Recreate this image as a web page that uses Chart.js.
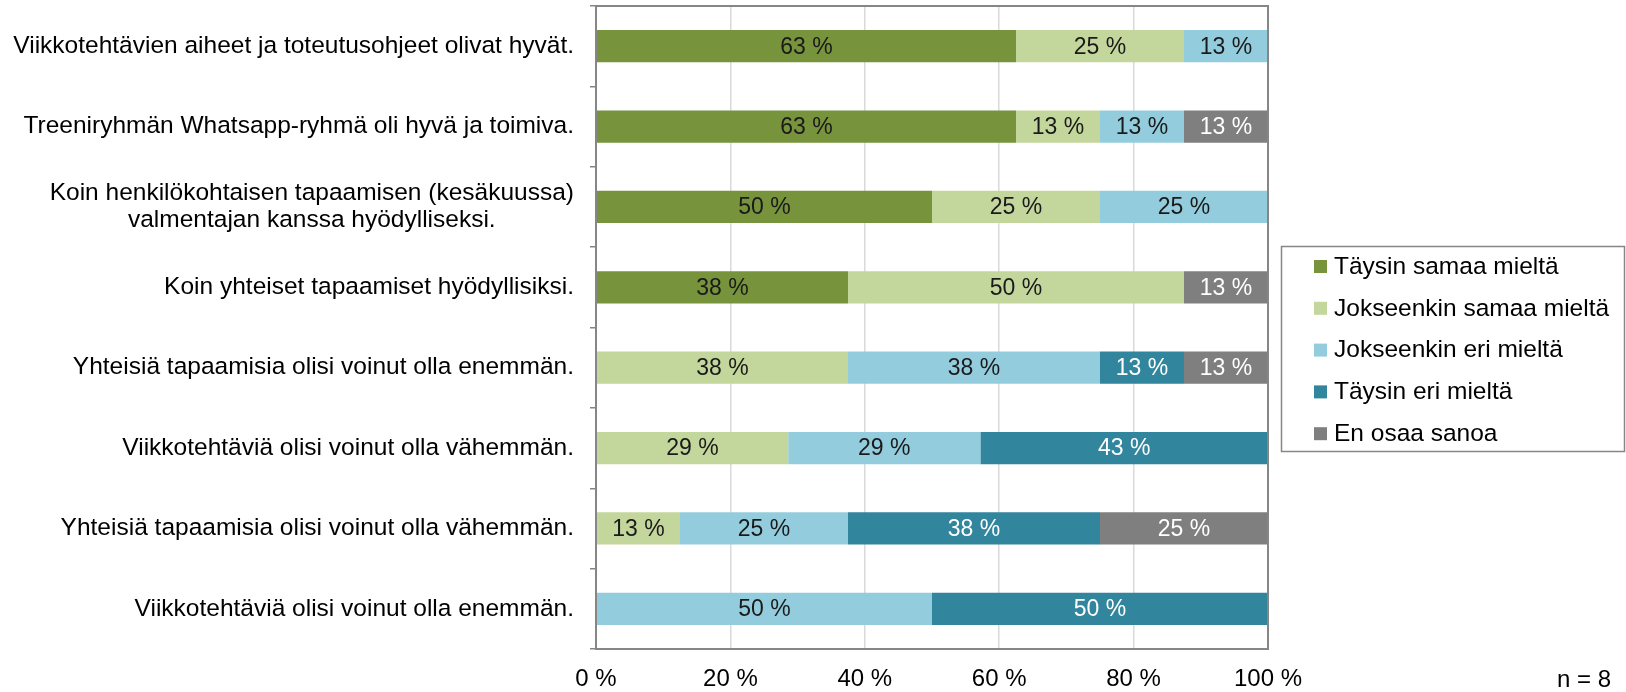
<!DOCTYPE html>
<html>
<head>
<meta charset="utf-8">
<script src="https://cdn.jsdelivr.net/npm/chart.js@4"></script>
<style>
  html, body { margin: 0; padding: 0; background: #fff; }
  #wrap { width: 1626px; height: 692px; position: relative; }
</style>
</head>
<body>
<div id="wrap"><canvas id="chart"></canvas></div>
<script>
const categories = [
  'Viikkotehtävien aiheet ja toteutusohjeet olivat hyvät.',
  'Treeniryhmän Whatsapp-ryhmä oli hyvä ja toimiva.',
  ['Koin henkilökohtaisen tapaamisen (kesäkuussa)', 'valmentajan kanssa hyödylliseksi.'],
  'Koin yhteiset tapaamiset hyödyllisiksi.',
  'Yhteisiä tapaamisia olisi voinut olla enemmän.',
  'Viikkotehtäviä olisi voinut olla vähemmän.',
  'Yhteisiä tapaamisia olisi voinut olla vähemmän.',
  'Viikkotehtäviä olisi voinut olla enemmän.'
]
const seriesNames = ['Täysin samaa mieltä', 'Jokseenkin samaa mieltä', 'Jokseenkin eri mieltä', 'Täysin eri mieltä', 'En osaa sanoa']
const taysinSamaa = [62.5, 62.5, 50, 37.5, 0, 0, 0, 0]
const jokseenkinSamaa = [25, 12.5, 25, 50, 37.5, 28.6, 12.5, 0]
const jokseenkinEri = [12.5, 12.5, 25, 0, 37.5, 28.6, 25, 50]
const taysinEri = [0, 0, 0, 0, 12.5, 42.8, 37.5, 50]
const enOsaa = [0, 12.5, 0, 12.5, 12.5, 0, 25, 0]
const xTicks = [0, 20, 40, 60, 80, 100]
const nText = 'n = 8'

const colors = ['#77933c', '#c3d69b', '#93cddd', '#31859c', '#7f7f7f']
const labelColors = ['#1a1a1a', '#1a1a1a', '#1a1a1a', '#fff', '#fff']
const FONT = '"Liberation Sans", Arial, sans-serif'

// category labels: right aligned, lines of a wrapped label centred on each other
const categoryLabels = {
  id: 'categoryLabels',
  afterDraw(chart) {
    const ctx = chart.ctx
    const yScale = chart.scales.y
    const right = chart.chartArea.left - 22
    ctx.save()
    ctx.font = '24.5px ' + FONT
    ctx.fillStyle = '#000'
    ctx.textBaseline = 'middle'
    ctx.textAlign = 'center'
    categories.forEach((label, i) => {
      const lines = Array.isArray(label) ? label : [label]
      const w = Math.max(...lines.map(l => ctx.measureText(l).width))
      const cy = yScale.getPixelForTick(i)
      const lh = 27
      lines.forEach((line, k) => {
        const y = cy + (k - (lines.length - 1) / 2) * lh
        ctx.fillText(line, right - w / 2, y)
      })
    })
    ctx.restore()
  }
}

const valueLabels = {
  id: 'valueLabels',
  afterDatasetsDraw(chart) {
    const ctx = chart.ctx
    ctx.save()
    ctx.font = '23px ' + FONT
    ctx.textAlign = 'center'
    ctx.textBaseline = 'middle'
    chart.data.datasets.forEach((ds, i) => {
      const meta = chart.getDatasetMeta(i)
      meta.data.forEach((bar, j) => {
        const v = ds.data[j]
        if (!v) return
        ctx.fillStyle = labelColors[i]
        ctx.fillText(Math.round(v) + ' %', (bar.x + bar.base) / 2, bar.y + 1)
      })
    })
    ctx.restore()
  }
}

const frameAndLegend = {
  id: 'frameAndLegend',
  afterDraw(chart) {
    const ctx = chart.ctx
    const a = chart.chartArea
    ctx.save()
    ctx.strokeStyle = '#868686'
    ctx.lineWidth = 2
    ctx.strokeRect(a.left, a.top, a.right - a.left, a.bottom - a.top)

    // legend box
    ctx.lineWidth = 1.5
    ctx.strokeRect(1281.5, 246.5, 343, 205)
    ctx.font = '24.5px ' + FONT
    ctx.textBaseline = 'middle'
    ctx.textAlign = 'left'
    seriesNames.forEach((name, i) => {
      const y = 266 + i * 41.8
      ctx.fillStyle = colors[i]
      ctx.fillRect(1314, y - 6, 13, 13)
      ctx.fillStyle = '#000'
      ctx.fillText(name, 1334, y + 1)
    })

    ctx.font = '24px ' + FONT
    ctx.textAlign = 'right'
    ctx.fillText(nText, 1611, 680)
    ctx.restore()
  }
}

new Chart(document.getElementById('chart'), {
  type: 'bar',
  data: {
    labels: categories,
    datasets: [taysinSamaa, jokseenkinSamaa, jokseenkinEri, taysinEri, enOsaa].map((d, i) => ({
      label: seriesNames[i],
      data: d,
      backgroundColor: colors[i],
      borderWidth: 0,
      categoryPercentage: 1,
      barPercentage: 0.4
    }))
  },
  options: {
    indexAxis: 'y',
    responsive: true,
    maintainAspectRatio: false,
    animation: false,
    layout: { padding: { top: 6, right: 358, left: 0, bottom: 0 } },
    scales: {
      x: {
        stacked: true,
        min: 0,
        max: 100,
        afterBuildTicks: scale => { scale.ticks = xTicks.map(v => ({ value: v })) },
        afterFit: scale => { scale.height = 43 },
        grid: { color: '#d9d9d9', lineWidth: 1.5, drawTicks: false },
        border: { display: false },
        ticks: {
          padding: 16,
          color: '#000',
          font: { size: 24, family: FONT },
          callback: v => v + ' %'
        }
      },
      y: {
        stacked: true,
        afterFit: scale => {
          scale.width = 596
          scale.paddingTop = 0
          scale.paddingBottom = 0
        },
        grid: { drawOnChartArea: false, drawTicks: true, tickLength: 6, color: '#868686', lineWidth: 1.5 },
        border: { display: false },
        ticks: {
          color: 'rgba(0,0,0,0)',
          font: { size: 24.5, family: FONT }
        }
      }
    },
    plugins: {
      legend: { display: false },
      tooltip: { enabled: false }
    }
  },
  plugins: [valueLabels, categoryLabels, frameAndLegend]
})
</script>
</body>
</html>
